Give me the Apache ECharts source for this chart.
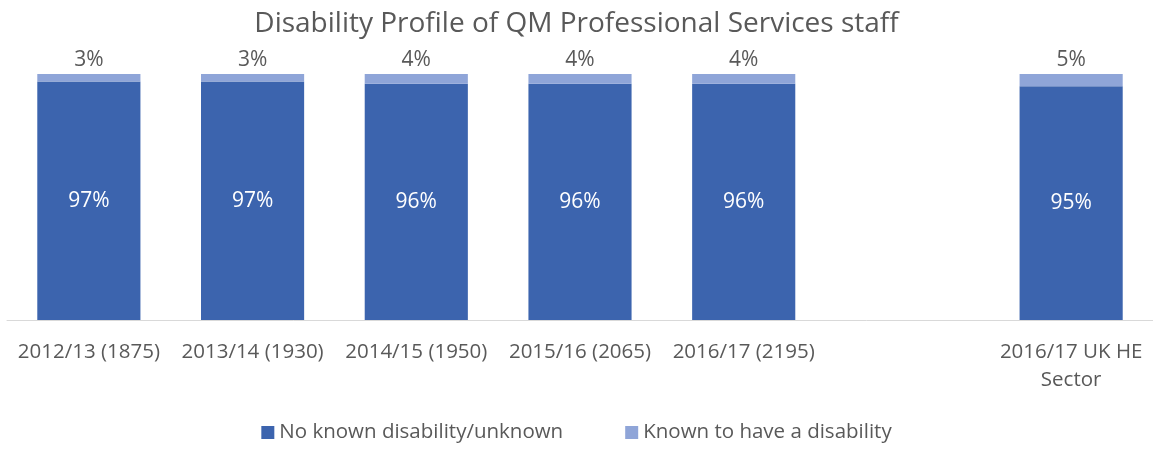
<!DOCTYPE html>
<html>
<head>
<meta charset="utf-8">
<title>Disability Profile</title>
<script src="https://cdn.jsdelivr.net/npm/echarts@6/dist/echarts.min.js"></script>
<style>
  html, body { margin: 0; padding: 0; background: #fff; }
  #chart { width: 1153px; height: 450px; }
</style>
</head>
<body>
<div id="chart"></div>
<script>
// categories (blank slot keeps the gap before the sector bar)
var categories = ['2012/13 (1875)', '2013/14 (1930)', '2014/15 (1950)', '2015/16 (2065)', '2016/17 (2195)', '', '2016/17 UK HE\nSector'];
var noKnown = [97, 97, 96, 96, 96, null, 95];
var known = [3, 3, 4, 4, 4, null, 5];

var textColor = '#595959';
var font = 'Open Sans';

var chart = echarts.init(document.getElementById('chart'));
chart.setOption({
    animation: false,
    title: {
        text: 'Disability Profile of QM Professional Services staff',
        left: 'center',
        top: 5,
        textStyle: { fontFamily: font, fontSize: 28, fontWeight: 'normal', color: textColor }
    },
    legend: {
        bottom: 2,
        left: 'center',
        itemWidth: 13,
        itemHeight: 13,
        itemGap: 62,
        icon: 'rect',
        textStyle: { fontFamily: font, fontSize: 20.5, color: textColor }
    },
    grid: { left: 7, right: -2, top: 74, bottom: 130 },
    xAxis: {
        type: 'category',
        data: categories,
        axisLine: { lineStyle: { color: '#d9d9d9' } },
        axisTick: { show: false },
        axisLabel: { interval: 0, margin: 18, fontFamily: font, fontSize: 20.5, color: textColor, lineHeight: 28 }
    },
    yAxis: {
        type: 'value',
        min: 0,
        max: 100,
        show: false
    },
    series: [
        {
            name: 'No known disability/unknown',
            type: 'bar',
            stack: 'all',
            barWidth: '63%',
            data: noKnown,
            itemStyle: { color: '#3c64ae' },
            label: {
                show: true,
                position: 'inside',
                formatter: '{c}%',
                fontFamily: font,
                fontSize: 21,
                color: '#fff'
            }
        },
        {
            name: 'Known to have a disability',
            type: 'bar',
            stack: 'all',
            data: known,
            itemStyle: { color: '#8fa5d8' },
            label: {
                show: true,
                position: 'top',
                distance: 3,
                formatter: '{c}%',
                fontFamily: font,
                fontSize: 21,
                color: textColor
            }
        }
    ]
});
</script>
</body>
</html>
